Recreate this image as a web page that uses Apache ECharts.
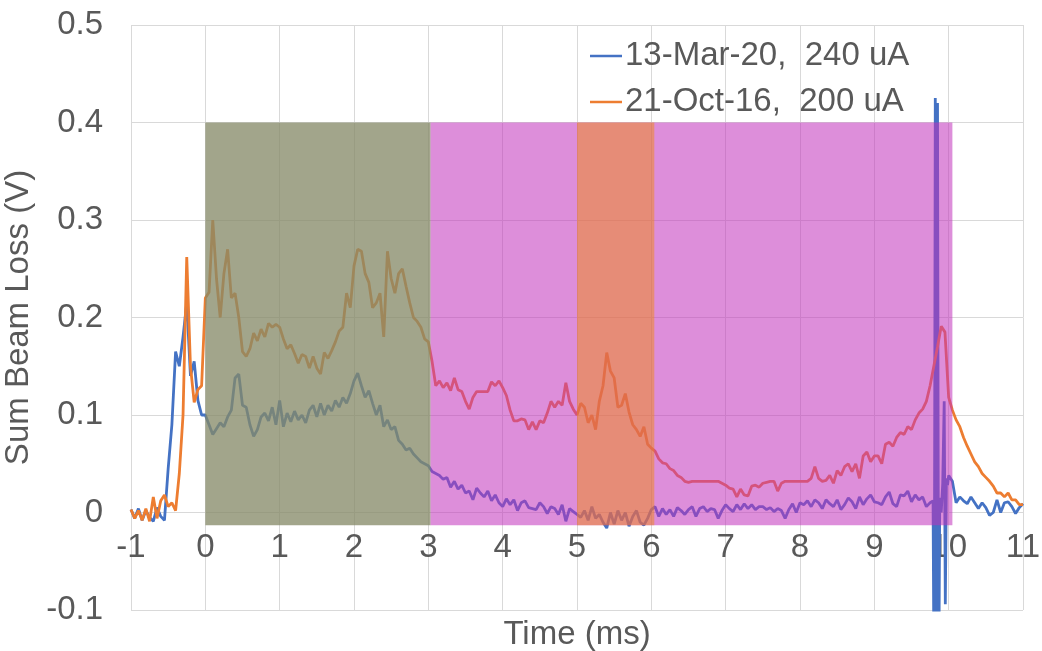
<!DOCTYPE html>
<html>
<head>
<meta charset="utf-8">
<title>Sum Beam Loss</title>
<script src="https://cdn.jsdelivr.net/npm/echarts@6/dist/echarts.min.js"></script>
<style>
  html, body { margin: 0; padding: 0; background: #ffffff; }
  #chart { width: 1042px; height: 651px; }
</style>
</head>
<body>
<div id="chart"></div>
<script>
// Sampling grid of the loss traces (ms)
const tStart = -1;
const tStep = 0.05;
const tailStart = 10;

const seriesNames = ['13-Mar-20,  240 uA', '21-Oct-16,  200 uA'];

// 13-Mar-20 trace, -1.00 ms .. 9.75 ms
const march20Loss = [
  // -1.00 .. -0.05
  0.003, -0.006, 0.004, -0.008, 0.002, -0.005, -0.009, 0.005, -0.004, -0.008,
  0.045, 0.09, 0.165, 0.15, 0.18, 0.215, 0.14, 0.155, 0.115, 0.1,
  // 0.00 .. 2.95
  0.1, 0.09, 0.08, 0.086, 0.092, 0.088, 0.098, 0.105, 0.138, 0.142,
  0.11, 0.108, 0.09, 0.078, 0.085, 0.098, 0.102, 0.094, 0.108, 0.09,
  0.115, 0.088, 0.102, 0.093, 0.104, 0.095, 0.1, 0.092, 0.105, 0.11,
  0.098, 0.112, 0.1, 0.11, 0.104, 0.115, 0.108, 0.118, 0.112, 0.122,
  0.135, 0.143, 0.13, 0.118, 0.125, 0.112, 0.1, 0.11, 0.088, 0.095,
  0.085, 0.088, 0.074, 0.07, 0.064, 0.066, 0.06, 0.056, 0.052, 0.05,
  // 3.00 .. 5.95
  0.048, 0.042, 0.04, 0.038, 0.034, 0.036, 0.026, 0.032, 0.024, 0.028,
  0.02, 0.022, 0.013, 0.025, 0.02, 0.016, 0.022, 0.012, 0.018, 0.01,
  0.006, 0.014, 0.008, 0.013, 0.002, 0.01, 0.012, 0.005, 0.004, 0.003,
  0.01, 0.006, -0.001, 0.006, 0.004, -0.002, 0.008, -0.009, 0.004, 0.001,
  -0.002, -0.005, 0.002, -0.008, 0.006, -0.006, -0.002, -0.01, -0.016, 0.0,
  -0.012, 0.002, -0.008, 0.0, -0.014, -0.004, 0.002, -0.01, -0.013, -0.006,
  // 6.00 .. 6.95
  0.003, 0.006, -0.004, 0.004, -0.002, 0.003, -0.004, 0.005, 0.002, -0.002,
  0.003, 0.006, -0.004, 0.004, 0.006, 0.001, 0.004, 0.003, -0.006, 0.002,
  // 7.00 .. 7.95
  0.008, 0.004, 0.001, 0.008, 0.003, 0.009, 0.004, 0.008, 0.003, 0.006,
  0.006, 0.003, 0.005, 0.001, 0.004, 0.002, -0.006, 0.003, 0.009, 0.0,
  // 8.00 .. 8.95
  0.01, 0.008, 0.012, 0.006, 0.013, 0.01, 0.004, 0.013, 0.009, 0.006,
  0.013, 0.003, 0.008, 0.015, 0.011, 0.004, 0.016, 0.008, 0.014, 0.018,
  // 9.00 .. 9.75
  0.011, 0.01, 0.008, 0.016, 0.021, 0.009, 0.006, 0.018, 0.017, 0.022,
  0.011, 0.018, 0.013, 0.016, 0.006, 0.01
];

// 13-Mar-20 trace around the extraction spike: [time (ms), loss (V)]
const march20Spike = [
  [9.79, 0.012], [9.805, -0.2], [9.82, 0.425], [9.835, -0.2], [9.85, 0.42],
  [9.865, -0.2], [9.88, 0.015], [9.9, 0.0], [9.92, 0.03], [9.94, 0.114],
  [9.955, -0.094], [9.97, 0.035], [9.985, 0.028]
];

// 13-Mar-20 trace, 10.00 ms .. 11.00 ms
const march20Tail = [
  0.038, 0.032, 0.01, 0.016, 0.012, 0.009, 0.016, 0.01, 0.004, 0.01,
  0.005, -0.003, 0.0, 0.013, 0.0, 0.01, 0.011, 0.006, -0.001, 0.005, 0.009
];

// 21-Oct-16 trace, -1.00 ms .. 11.00 ms
const oct16Loss = [
  // -1.00 .. -0.05
  0.003, -0.006, 0.002, -0.008, 0.004, -0.009, 0.016, -0.006, 0.012, 0.018,
  0.006, 0.01, 0.002, 0.04, 0.1, 0.262, 0.15, 0.113, 0.126, 0.13,
  // 0.00 .. 2.95
  0.22, 0.226, 0.3, 0.24, 0.2, 0.245, 0.27, 0.22, 0.225, 0.2,
  0.165, 0.16, 0.168, 0.184, 0.176, 0.188, 0.18, 0.194, 0.19, 0.193,
  0.19, 0.178, 0.168, 0.172, 0.163, 0.153, 0.162, 0.16, 0.148, 0.16,
  0.148, 0.142, 0.164, 0.158, 0.166, 0.175, 0.186, 0.19, 0.225, 0.21,
  0.253, 0.27, 0.268, 0.245, 0.236, 0.21, 0.215, 0.225, 0.18, 0.268,
  0.24, 0.225, 0.245, 0.25, 0.232, 0.215, 0.2, 0.196, 0.19, 0.178,
  // 3.00 .. 5.95
  0.175, 0.155, 0.13, 0.135, 0.128, 0.133, 0.125, 0.138, 0.126, 0.124,
  0.114, 0.106, 0.118, 0.124, 0.124, 0.124, 0.124, 0.134, 0.13, 0.135,
  0.128, 0.12, 0.105, 0.094, 0.094, 0.096, 0.095, 0.085, 0.093, 0.085,
  0.094, 0.092, 0.102, 0.114, 0.108, 0.114, 0.11, 0.133, 0.114, 0.106,
  0.1, 0.112, 0.108, 0.092, 0.1, 0.085, 0.114, 0.13, 0.164, 0.145,
  0.138, 0.108, 0.11, 0.122, 0.103, 0.09, 0.085, 0.078, 0.088, 0.07,
  // 6.00 .. 6.95
  0.066, 0.063, 0.055, 0.051, 0.05, 0.045, 0.043, 0.038, 0.036, 0.032,
  0.031, 0.032, 0.032, 0.032, 0.032, 0.032, 0.032, 0.032, 0.032, 0.03,
  // 7.00 .. 7.95
  0.028, 0.025, 0.024, 0.016, 0.024, 0.018, 0.017, 0.027, 0.028, 0.026,
  0.03, 0.031, 0.032, 0.032, 0.022, 0.03, 0.032, 0.032, 0.032, 0.032,
  // 8.00 .. 8.95
  0.032, 0.032, 0.032, 0.035, 0.047, 0.035, 0.032, 0.033, 0.038, 0.03,
  0.043, 0.038, 0.047, 0.05, 0.042, 0.05, 0.035, 0.058, 0.062, 0.052,
  // 9.00 .. 9.95
  0.058, 0.058, 0.05, 0.07, 0.072, 0.068, 0.077, 0.082, 0.08, 0.088,
  0.085, 0.095, 0.102, 0.106, 0.114, 0.13, 0.15, 0.17, 0.191, 0.185,
  // 10.00 .. 11.00
  0.118, 0.105, 0.095, 0.088, 0.077, 0.068, 0.06, 0.052, 0.047, 0.04,
  0.036, 0.032, 0.027, 0.02, 0.02, 0.016, 0.02, 0.013, 0.013, 0.008, 0.008
];

// Timing windows (ms) and their loss-level extent (V)
const bandStart = [0, 3.03, 5.0];
const bandEnd = [3.03, 10.05, 6.04];
const bandLow = -0.013;
const bandHigh = 0.4;

// Axis ranges
const xRange = [-1, 11];
const yRange = [-0.1, 0.5];

const bandFill = [
  'rgba(134,138,104,0.77)',
  'rgba(193,49,187,0.55)',
  'rgba(240,138,20,0.5)'
];

const gridded = (values, start) =>
  values.map((v, i) => [+(start + i * tStep).toFixed(3), v]);

const march20Data = gridded(march20Loss, tStart)
  .concat(march20Spike)
  .concat(gridded(march20Tail, tailStart));
const oct16Data = gridded(oct16Loss, tStart);

const bandData = bandStart.map((s, i) => [s, bandEnd[i], bandLow, bandHigh]);

const textColor = '#595959';
const gridColor = '#d9d9d9';
const fontFamily = '"Liberation Sans", Arial, sans-serif';
const fontSize = 33;

const chart = echarts.init(document.getElementById('chart'));
chart.setOption({
  animation: false,
  backgroundColor: '#ffffff',
  textStyle: { fontFamily: fontFamily },
  grid: { left: 131, right: 19, top: 25, bottom: 41, containLabel: false, outerBoundsMode: 'none' },
  legend: {
    data: seriesNames,
    orient: 'vertical',
    left: 590,
    top: 39,
    padding: 0,
    icon: 'rect',
    itemWidth: 32,
    itemHeight: 2.5,
    itemGap: 12,
    selectedMode: false,
    textStyle: { color: textColor, fontSize: fontSize, lineHeight: 34, padding: [0, 0, 0, -2], fontFamily: fontFamily }
  },
  xAxis: {
    type: 'value',
    position: 'bottom',
    min: xRange[0],
    max: xRange[1],
    interval: 1,
    name: 'Time (ms)',
    nameLocation: 'middle',
    nameGap: 8,
    nameTextStyle: { color: textColor, fontSize: fontSize, fontFamily: fontFamily, verticalAlign: 'top' },
    axisLine: { show: false, onZero: false },
    axisTick: { show: false },
    axisLabel: { inside: true, color: textColor, fontSize: fontSize, margin: 46, fontFamily: fontFamily },
    splitLine: { show: true, lineStyle: { color: gridColor, width: 1 } }
  },
  yAxis: {
    type: 'value',
    min: yRange[0],
    max: yRange[1],
    interval: 0.1,
    name: 'Sum Beam Loss (V)',
    nameLocation: 'middle',
    nameGap: 80,
    nameTextStyle: { color: textColor, fontSize: fontSize, fontFamily: fontFamily },
    axisLine: { show: false, onZero: false },
    axisTick: { show: false },
    axisLabel: { color: textColor, fontSize: fontSize, margin: 28, fontFamily: fontFamily },
    splitLine: { show: true, lineStyle: { color: gridColor, width: 1 } }
  },
  series: [
    {
      name: seriesNames[0],
      type: 'line',
      data: march20Data,
      symbol: 'none',
      clip: true,
      z: 2,
      color: '#4472C4',
      lineStyle: { color: '#4472C4', width: 2.8 },
      emphasis: { disabled: true }
    },
    {
      name: seriesNames[1],
      type: 'line',
      data: oct16Data,
      symbol: 'none',
      clip: true,
      z: 2,
      color: '#ED7D31',
      lineStyle: { color: '#ED7D31', width: 2.8 },
      emphasis: { disabled: true }
    },
    {
      name: 'windows',
      type: 'custom',
      z: 3,
      silent: true,
      data: bandData,
      encode: { x: [0, 1], y: [2, 3] },
      renderItem: function (params, api) {
        const topLeft = api.coord([api.value(0), api.value(3)]);
        const bottomRight = api.coord([api.value(1), api.value(2)]);
        return {
          type: 'rect',
          shape: {
            x: topLeft[0],
            y: topLeft[1],
            width: bottomRight[0] - topLeft[0],
            height: bottomRight[1] - topLeft[1]
          },
          style: { fill: bandFill[params.dataIndex] }
        };
      }
    }
  ]
});
</script>
</body>
</html>
